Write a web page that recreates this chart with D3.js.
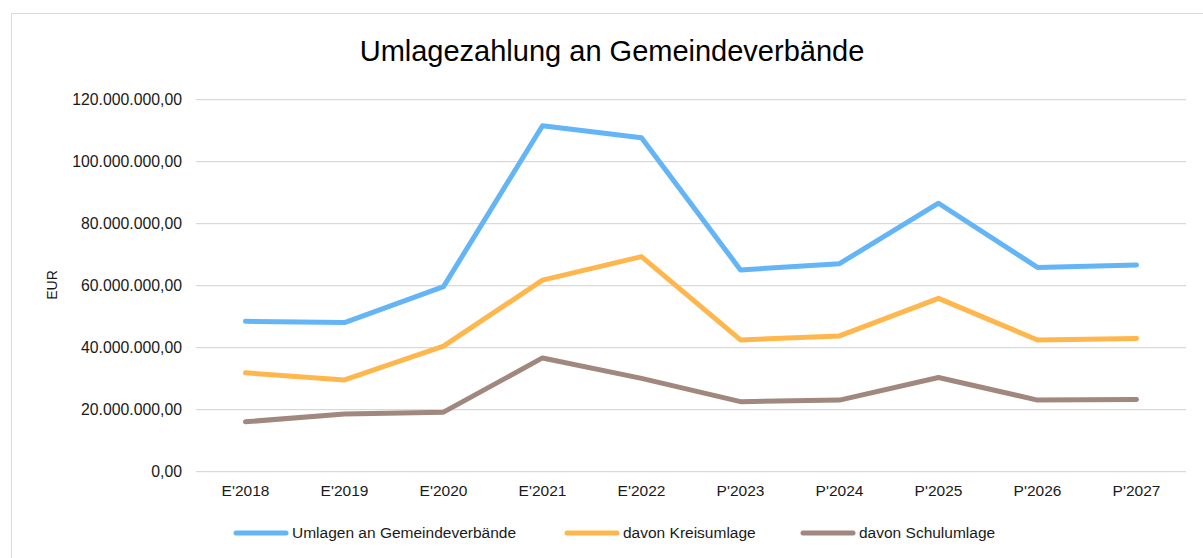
<!DOCTYPE html>
<html>
<head>
<meta charset="utf-8">
<script src="https://cdn.jsdelivr.net/npm/d3@7"></script>
<style>
  body { margin: 0; background: #fff; }
  svg { display: block; font-family: "Liberation Sans", Arial, sans-serif; }
</style>
</head>
<body>
<script>
const categories = ["E'2018", "E'2019", "E'2020", "E'2021", "E'2022", "P'2023", "P'2024", "P'2025", "P'2026", "P'2027"];
const umlagen = [48.5, 48.1, 59.7, 111.6, 107.7, 65.1, 67.1, 86.6, 65.9, 66.7].map(v => v * 1e6);
const kreisumlage = [31.9, 29.6, 40.5, 61.8, 69.4, 42.5, 43.8, 55.9, 42.5, 43.0].map(v => v * 1e6);
const schulumlage = [16.1, 18.6, 19.2, 36.7, 30.1, 22.6, 23.1, 30.4, 23.1, 23.3].map(v => v * 1e6);
const seriesNames = ["Umlagen an Gemeindeverbände", "davon Kreisumlage", "davon Schulumlage"];
const yTicks = [0, 20e6, 40e6, 60e6, 80e6, 100e6, 120e6];

const series = [
  { name: seriesNames[0], values: umlagen, color: '#64b5f6' },
  { name: seriesNames[1], values: kreisumlage, color: '#ffb74d' },
  { name: seriesNames[2], values: schulumlage, color: '#a1887f' },
];

const width = 1203;
const height = 558;
const fontSize = 15.5;

const svg = d3.select('body').append('svg')
  .attr('width', width)
  .attr('height', height);

// outer chart frame (runs past the window at right and bottom)
svg.append('rect')
  .attr('x', 11.5).attr('y', 13.5)
  .attr('width', 1200).attr('height', 600)
  .attr('fill', 'none')
  .attr('stroke', '#d9d9d9');

const x = d3.scaleBand().domain(categories).range([196, 1186]);
const y = d3.scaleLinear().domain([0, 120e6]).range([471.7, 99.7]);

// german number format: 120.000.000,00
const fmt = v => d3.format(',.2f')(v).replace(/,/g, '#').replace('.', ',').replace(/#/g, '.');

// gridlines
svg.append('g')
  .selectAll('line')
  .data(yTicks)
  .join('line')
  .attr('x1', 196).attr('x2', 1186)
  .attr('y1', d => y(d)).attr('y2', d => y(d))
  .attr('stroke', '#d9d9d9')
  .attr('stroke-width', 1.3);

// y axis labels
const yAxis = svg.append('g')
  .attr('transform', 'translate(182,0)')
  .attr('font-size', 15.8)
  .attr('font-family', '"Liberation Sans", Arial, sans-serif')
  .call(d3.axisLeft(y).tickValues(yTicks).tickSize(0).tickPadding(0).tickFormat(fmt));
yAxis.select('.domain').remove();
yAxis.selectAll('text')
  .attr('font-size', 15.8)
  .attr('fill', '#1a1a1a');

// x axis labels
const xAxis = svg.append('g')
  .attr('transform', 'translate(0,485)')
  .call(d3.axisBottom(x).tickSize(0).tickPadding(0));
xAxis.attr('font-size', fontSize).attr('font-family', '"Liberation Sans", Arial, sans-serif');
xAxis.select('.domain').remove();
xAxis.selectAll('text')
  .attr('font-size', fontSize)
  .attr('fill', '#1a1a1a');

// y title
svg.append('text')
  .attr('transform', 'translate(57,285) rotate(-90)')
  .attr('text-anchor', 'middle')
  .attr('font-size', 14)
  .attr('fill', '#1a1a1a')
  .text('EUR');

// chart title
svg.append('text')
  .attr('x', 612).attr('y', 61)
  .attr('text-anchor', 'middle')
  .attr('font-size', 29)
  .attr('fill', '#000')
  .text('Umlagezahlung an Gemeindeverbände');

const line = d3.line()
  .x((d, i) => x(categories[i]) + x.bandwidth() / 2)
  .y(d => y(d));

svg.append('g')
  .selectAll('path')
  .data(series)
  .join('path')
  .attr('d', d => line(d.values))
  .attr('fill', 'none')
  .attr('stroke', d => d.color)
  .attr('stroke-width', 5)
  .attr('stroke-linejoin', 'round')
  .attr('stroke-linecap', 'round');

// legend
const legendX = [236, 567, 803];
const legend = svg.append('g')
  .selectAll('g')
  .data(series)
  .join('g')
  .attr('transform', (d, i) => `translate(${legendX[i]},533)`);
legend.append('line')
  .attr('x1', 0).attr('x2', 50)
  .attr('stroke', d => d.color)
  .attr('stroke-width', 5)
  .attr('stroke-linecap', 'round');
legend.append('text')
  .attr('x', 56).attr('dy', '0.35em')
  .attr('font-size', fontSize)
  .attr('fill', '#1a1a1a')
  .text(d => d.name);
</script>
</body>
</html>
